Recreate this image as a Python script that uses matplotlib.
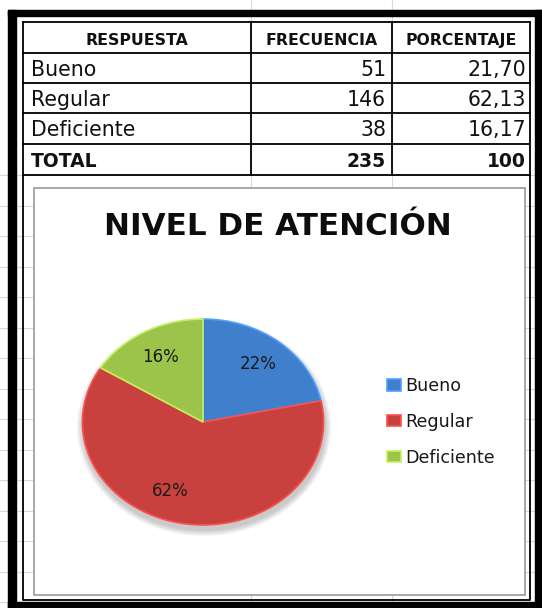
import matplotlib
matplotlib.use("Agg")
import matplotlib.pyplot as plt
from matplotlib.patches import Rectangle, Ellipse
import matplotlib.colors as mcolors

# ---- data ----
headers = ["RESPUESTA", "FRECUENCIA", "PORCENTAJE"]
categories = ["Bueno", "Regular", "Deficiente"]
frecuencia = [51, 146, 38]
porcentaje = ["21,70", "62,13", "16,17"]
total_label = "TOTAL"
total_frec = 235
total_pct = "100"
title = "NIVEL DE ATENCIÓN"
colors = ["#3f7fcc", "#c9413e", "#9cc34a"]

FONT = ["DejaVu Sans"]
W, H = 542, 608
fig = plt.figure(figsize=(W / 100, H / 100), dpi=100)
bg = fig.add_axes([0, 0, 1, 1])
bg.set_xlim(0, W)
bg.set_ylim(H, 0)
bg.axis("off")

# faint spreadsheet gridlines
grid_c = "#d9d9d9"
y = 175
while y < H:
    bg.plot([0, W], [y, y], color=grid_c, lw=0.8, zorder=0)
    y += 30.5
for x in [251, 392]:
    bg.plot([x, x], [0, H], color=grid_c, lw=0.8, zorder=0)

# table grid
cols = [23, 251, 392, 530]
rows = [22, 53, 83, 113, 144, 175]
for yy in rows:
    bg.plot([cols[0], cols[-1]], [yy, yy], color="black", lw=1.3, zorder=2)
for xx in cols:
    bg.plot([xx, xx], [rows[0], rows[-1]], color="black", lw=1.3, zorder=2)
bg.plot([23, 23, 530, 530], [175, 600, 600, 175], color="black", lw=1.3, zorder=2)

# thick outer frame
frame_c = "black"
bg.add_patch(Rectangle((8, 10), 7.5, 598, color=frame_c, zorder=3))
bg.add_patch(Rectangle((8, 10), 534, 6, color=frame_c, zorder=3))
bg.add_patch(Rectangle((535, 10), 7, 598, color=frame_c, zorder=3))
bg.add_patch(Rectangle((8, 602), 534, 6, color=frame_c, zorder=3))

# header
hdr_fs = 11.3
centers = [(cols[i] + cols[i + 1]) / 2 for i in range(3)]
for c, h in zip(centers, headers):
    bg.text(c, 45, h, ha="center", va="baseline", fontsize=hdr_fs,
            fontweight="bold", family=FONT, color="#111111", zorder=4)

body_fs = 14.8
baselines = [76, 106, 136]
for b, cat, f, p in zip(baselines, categories, frecuencia, porcentaje):
    bg.text(31, b, cat, ha="left", va="baseline", fontsize=body_fs,
            family=FONT, color="#111111", zorder=4)
    bg.text(386, b, str(f), ha="right", va="baseline", fontsize=body_fs,
            family=FONT, color="#111111", zorder=4)
    bg.text(526, b, p, ha="right", va="baseline", fontsize=body_fs,
            family=FONT, color="#111111", zorder=4)
bg.text(31, 167, total_label, ha="left", va="baseline", fontsize=body_fs - 1.3,
        fontweight="bold", family=FONT, color="#111111", zorder=4)
bg.text(386, 167, str(total_frec), ha="right", va="baseline", fontsize=body_fs - 1.3,
        fontweight="bold", family=FONT, color="#111111", zorder=4)
bg.text(526, 167, total_pct, ha="right", va="baseline", fontsize=body_fs - 1.3,
        fontweight="bold", family=FONT, color="#111111", zorder=4)

# chart box
bg.add_patch(Rectangle((34, 188), 491, 407, facecolor="white",
                       edgecolor="#9a9a9a", lw=1.2, zorder=1))
bg.text(278, 235, title, ha="center", va="baseline", fontsize=22.3,
        fontweight="bold", family=FONT, color="#0d0d0d", zorder=4)

# soft shadow under the pie (bottom-weighted)
for i in range(5):
    bg.add_patch(Ellipse((204, 427), 244 + i * 2.5, 208 + i * 2.5,
                         facecolor="#000000", alpha=0.045, lw=0, zorder=1.5))

# pie
cx, cy, rx, ry = 203, 422, 123, 105
ax = fig.add_axes([(cx - rx) / W, (H - cy - ry) / H, 2 * rx / W, 2 * ry / H])
ax.patch.set_alpha(0)
wedges, texts, autotexts = ax.pie(
    frecuencia, colors=colors, startangle=90, counterclock=False,
    autopct="%.0f%%", pctdistance=0.72,
    wedgeprops=dict(linewidth=1.2),
    textprops=dict(fontsize=12, family=FONT, color="#1a1a1a"))
for w, c in zip(wedges, colors):
    w.set_edgecolor(mcolors.to_hex([min(1, v * 1.25) for v in mcolors.to_rgb(c)]))
ax.set_aspect("auto")
ax.set_xlim(-1.02, 1.02)
ax.set_ylim(-1.02, 1.02)
ax.axis("off")
autotexts[1].set_position((-0.27, -0.67))

# legend
leg = fig.legend(wedges, categories, loc="center left",
                 bbox_to_anchor=(378 / W, 1 - 422 / H), frameon=False,
                 prop=dict(family=FONT, size=12.6), handlelength=0.8,
                 handleheight=0.6, handletextpad=0.25, labelspacing=1.02,
                 borderpad=0)
for t in leg.get_texts():
    t.set_color("#1a1a1a")

fig.savefig("out.png", dpi=100)
